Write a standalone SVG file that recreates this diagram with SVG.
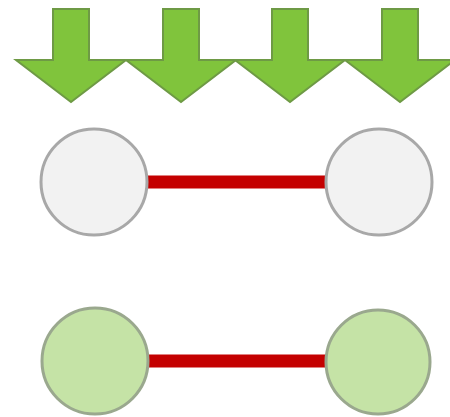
<svg xmlns="http://www.w3.org/2000/svg" width="450" height="417" viewBox="0 0 450 417">
<defs>
<style>
.arrow{fill:#80c43c;stroke:#6e9a45;stroke-width:2;stroke-linejoin:miter}
.white{fill:#f2f2f2;stroke:#a8a8a8;stroke-width:3}
.green{fill:#c5e3a6;stroke:#9aa88e;stroke-width:3}
.link{stroke:#c40000;stroke-width:13;fill:none}
</style>
<path id="arr" d="M-18,9 H18 V60 H55 L0,102 L-55,60 H-18 Z"/>
</defs>
<g id="arrows">
<use href="#arr" class="arrow" x="71"/>
<use href="#arr" class="arrow" x="181"/>
<use href="#arr" class="arrow" x="290"/>
<use href="#arr" class="arrow" x="400"/>
</g>
<g id="connectors">
<line class="link" x1="145" y1="182" x2="328" y2="182"/>
<line class="link" x1="145" y1="361" x2="328" y2="361"/>
</g>
<g id="node-top-left"><circle class="white" cx="94" cy="182" r="53"/></g>
<g id="node-top-right"><circle class="white" cx="379" cy="182" r="53"/></g>
<g id="node-bottom-left"><circle class="green" cx="95" cy="361" r="53"/></g>
<g id="node-bottom-right"><circle class="green" cx="378" cy="362" r="52"/></g>
</svg>
